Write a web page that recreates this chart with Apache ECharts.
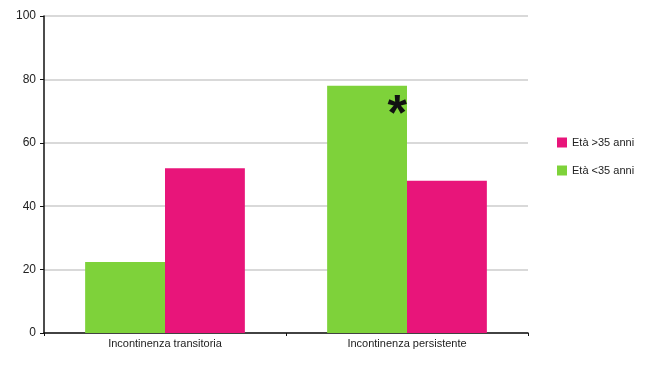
<!DOCTYPE html>
<html><head><meta charset="utf-8">
<script src="https://cdn.jsdelivr.net/npm/echarts@6/dist/echarts.min.js"></script>
<style>html,body{margin:0;padding:0;background:#fff}#c{width:659px;height:368px}</style>
</head><body><div id="c"></div>
<script>
const categories = ['Incontinenza transitoria', 'Incontinenza persistente'];
const under35 = [22.4, 78];
const over35 = [52, 48];
const seriesNames = ['Età <35 anni', 'Età >35 anni'];
const yTicks = [0, 20, 40, 60, 80, 100];

const chart = echarts.init(document.getElementById('c'));
chart.setOption({
  animation: false,
  backgroundColor: '#fff',
  textStyle: { fontFamily: 'Liberation Sans, Arial, sans-serif' },
  grid: { left: 44, right: 131, top: 16, bottom: 35, containLabel: false },
  legend: {
    data: [seriesNames[1], seriesNames[0]],
    orient: 'vertical', left: 552, top: 132, itemGap: 17,
    itemWidth: 10, itemHeight: 10, icon: 'rect',
    textStyle: { fontSize: 11, color: '#222', fontFamily: 'Liberation Sans, Arial, sans-serif' }
  },
  xAxis: {
    type: 'category', data: categories,
    axisLine: { lineStyle: { color: '#111', width: 1.5 } },
    axisTick: { show: true, length: 3, lineStyle: { color: '#111' } },
    axisLabel: { fontSize: 11, color: '#222', margin: 5 }
  },
  yAxis: {
    type: 'value', min: yTicks[0], max: yTicks[yTicks.length - 1], interval: 20,
    axisLine: { show: true, lineStyle: { color: '#111', width: 1.5 } },
    axisTick: { show: true, length: 4, lineStyle: { color: '#111' } },
    axisLabel: { fontSize: 12, color: '#222', margin: 8 },
    splitLine: { lineStyle: { color: '#cccccc', width: 1.5 } }
  },
  series: [
    {
      name: seriesNames[0], type: 'bar', barGap: '0%', barCategoryGap: '34%',
      itemStyle: { color: '#7ed23a' },
      data: under35.map((v, i) => i === 1 ? {
        value: v,
        label: { show: true, position: 'insideTopRight', formatter: '*', fontSize: 50, fontWeight: 'bold', color: '#111', offset: [5, 0] }
      } : v)
    },
    {
      name: seriesNames[1], type: 'bar', barGap: '0%', barCategoryGap: '34%',
      itemStyle: { color: '#e8157a' },
      data: over35
    }
  ]
});
</script></body></html>
